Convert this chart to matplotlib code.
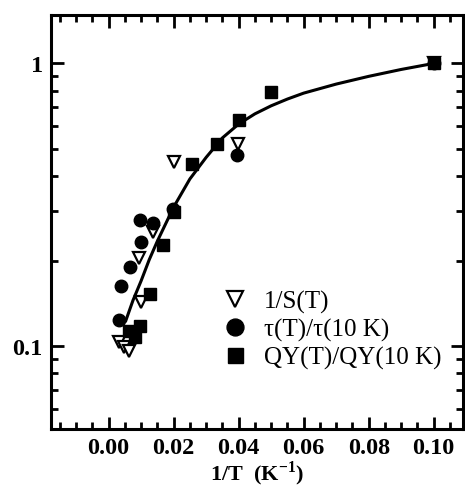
import numpy as np
import matplotlib.pyplot as plt
from matplotlib.ticker import MultipleLocator, LogLocator, FixedLocator, NullFormatter

plt.rcParams['font.family'] = ['Liberation Serif', 'DejaVu Serif']
plt.rcParams['mathtext.fontset'] = 'custom'
plt.rcParams['mathtext.rm'] = 'Liberation Serif'
plt.rcParams['mathtext.bf'] = 'Liberation Serif:bold'

# 1/S(T)
x_s = [0.0202, 0.0398, 0.0137, 0.0094, 0.0100, 0.0032, 0.0048, 0.0063, 0.100]
y_s = [0.447, 0.517, 0.253, 0.205, 0.143, 0.103, 0.099, 0.096, 1.0]

# tau(T)/tau(10 K)
x_t = [0.0097, 0.0137, 0.0100, 0.0066, 0.0038, 0.0032, 0.0198, 0.0396, 0.100]
y_t = [0.279, 0.272, 0.233, 0.190, 0.163, 0.124, 0.305, 0.473, 1.0]

# QY(T)/QY(10 K)
x_q = [0.0168, 0.0128, 0.0097, 0.0082, 0.0062, 0.0200, 0.0257, 0.0334, 0.0402, 0.0500, 0.100]
y_q = [0.227, 0.153, 0.118, 0.108, 0.113, 0.297, 0.440, 0.517, 0.629, 0.790, 1.0]

# fitted curve
x_fit = [0.0053, 0.0075, 0.010, 0.0125, 0.015, 0.020, 0.025, 0.030, 0.035, 0.040,
         0.045, 0.050, 0.055, 0.060, 0.070, 0.080, 0.090, 0.100]
y_fit = [0.123, 0.145, 0.170, 0.202, 0.235, 0.310, 0.390, 0.465, 0.545, 0.610,
         0.663, 0.708, 0.748, 0.785, 0.845, 0.900, 0.952, 1.0]

fig = plt.figure(figsize=(4.65, 4.89), dpi=100)
ax = fig.add_axes([0.1097, 0.1207, 0.886, 0.846])

ax.plot(x_fit, y_fit, color='black', linewidth=2.2, zorder=2)
ax.plot(x_s, y_s, linestyle='none', marker='v', markersize=9, markerfacecolor='white',
        markeredgecolor='black', markeredgewidth=1.6, label='1/S(T)', zorder=3)
ax.plot(x_t, y_t, linestyle='none', marker='o', markersize=9, color='black',
        label='τ(T)/τ(10 K)', zorder=3)
ax.plot(x_q, y_q, linestyle='none', marker='s', markersize=8, color='black',
        label='QY(T)/QY(10 K)', zorder=3)

ax.set_yscale('log')
ax.set_xlim(-0.0177, 0.1090)
ax.set_ylim(0.0509, 1.48)

ax.xaxis.set_major_locator(MultipleLocator(0.02))
ax.xaxis.set_minor_locator(MultipleLocator(0.005))
ax.xaxis.set_major_formatter(plt.FuncFormatter(lambda v, p: '%.2f' % v))
ax.yaxis.set_major_locator(FixedLocator([0.1, 1.0]))
ax.yaxis.set_major_formatter(plt.FuncFormatter(lambda v, p: '%g' % v))
ax.yaxis.set_minor_locator(LogLocator(base=10, subs=np.arange(2, 10)))
ax.yaxis.set_minor_formatter(NullFormatter())

ax.tick_params(which='both', direction='in', top=True, right=True, width=2)
ax.tick_params(which='major', length=9, labelsize=17.5, pad=6)
ax.tick_params(which='minor', length=5)
for lab in ax.get_xticklabels() + ax.get_yticklabels():
    lab.set_fontweight('bold')
for sp in ax.spines.values():
    sp.set_linewidth(2.2)

ax.set_xlabel(r'1/T  (K$^{\mathbf{-1}}$)', fontsize=16, fontweight='bold', labelpad=0)

ax.legend(loc='lower right', bbox_to_anchor=(0.972, 0.12), frameon=False, fontsize=18,
          handletextpad=0.55, labelspacing=0.2, handlelength=1.2, borderaxespad=0,
          markerscale=1.35)

fig.savefig('out.png', dpi=100)
